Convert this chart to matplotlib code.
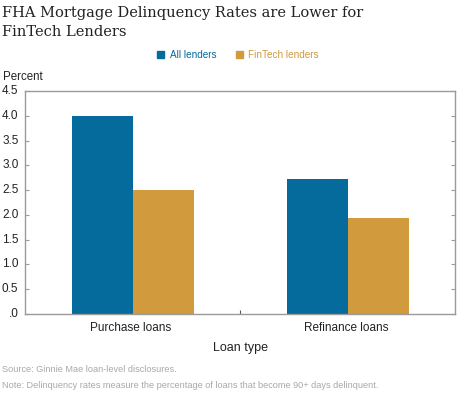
import matplotlib
matplotlib.use("Agg")
import matplotlib.pyplot as plt
import numpy as np

categories = ["Purchase loans", "Refinance loans"]
series_names = ["All lenders", "FinTech lenders"]
all_lenders = [4.0, 2.73]
fintech_lenders = [2.5, 1.94]
yticks = [0, 0.5, 1.0, 1.5, 2.0, 2.5, 3.0, 3.5, 4.0, 4.5]
ytick_labels = [".0", "0.5", "1.0", "1.5", "2.0", "2.5", "3.0", "3.5", "4.0", "4.5"]
title_lines = ["FHA Mortgage Delinquency Rates are Lower for", "FinTech Lenders"]

BLUE = "#056A9C"
ORANGE = "#D09A3D"
W, H = 460, 396
fig = plt.figure(figsize=(W/100, H/100), dpi=100)
plt.rcParams['font.family'] = ['Liberation Sans', 'DejaVu Sans']

ax = fig.add_axes([25.5/W, 1-314/H, 430/W, 223/H])
x = np.arange(len(categories))
bw = 0.286
ax.bar(x - bw/2, all_lenders, bw, color=BLUE, label=series_names[0])
ax.bar(x + bw/2, fintech_lenders, bw, color=ORANGE, label=series_names[1])
ax.set_xlim(-0.5, 1.5)
ax.set_ylim(0, 4.5)
ax.set_yticks(yticks)
ax.set_yticklabels([])
ax.set_xticks([0.5])
ax.set_xticklabels([])
for s in ax.spines.values():
    s.set_color("#9a9a9a")
    s.set_linewidth(1.0)
ax.tick_params(axis='y', direction='in', length=3, color="#9a9a9a", left=True, right=True)
ax.tick_params(axis='x', direction='in', length=3, color="#555555")

for v, lab in zip(yticks, ytick_labels):
    y = 314 - v * 223/4.5
    fig.text(18.5/W, 1 - y/H, lab, ha='right', va='center', fontsize=8.5, color="#222222")
fig.text(3/W, 1-77/H, "Percent", ha='left', va='center', fontsize=8.3, color="#222222")

for xi, c in zip(x, categories):
    fig.text((23.5 + (xi + 0.5) * 215)/W, 1-328/H, c, ha='center', va='center', fontsize=8.5, color="#222222")
fig.text(240.5/W, 1-348/H, "Loan type", ha='center', va='center', fontsize=9, color="#222222")

fig.text(2/W, 1-369.5/H, "Source: Ginnie Mae loan-level disclosures.", ha='left', va='center', fontsize=6.6, color="#a8a8a8")
fig.text(2/W, 1-386/H, "Note: Delinquency rates measure the percentage of loans that become 90+ days delinquent.", ha='left', va='center', fontsize=6.6, color="#a8a8a8")

for i, line in enumerate(title_lines):
    fig.text(2/W, 1-(16.5 + 19.5*i)/H, line, ha='left', va='baseline',
             fontsize=10.5, family=['DejaVu Serif'], color="#222222")

# legend
fig.patches.append(plt.Rectangle((157/W, 1-57.5/H), 7/W, 7/H, transform=fig.transFigure, color=BLUE))
fig.text(170/W, 1-54.5/H, series_names[0], ha='left', va='center', fontsize=7.2, color=BLUE)
fig.patches.append(plt.Rectangle((236/W, 1-57.5/H), 7/W, 7/H, transform=fig.transFigure, color=ORANGE))
fig.text(248/W, 1-54.5/H, series_names[1], ha='left', va='center', fontsize=7.2, color=ORANGE)

fig.savefig("out.png", dpi=100)
